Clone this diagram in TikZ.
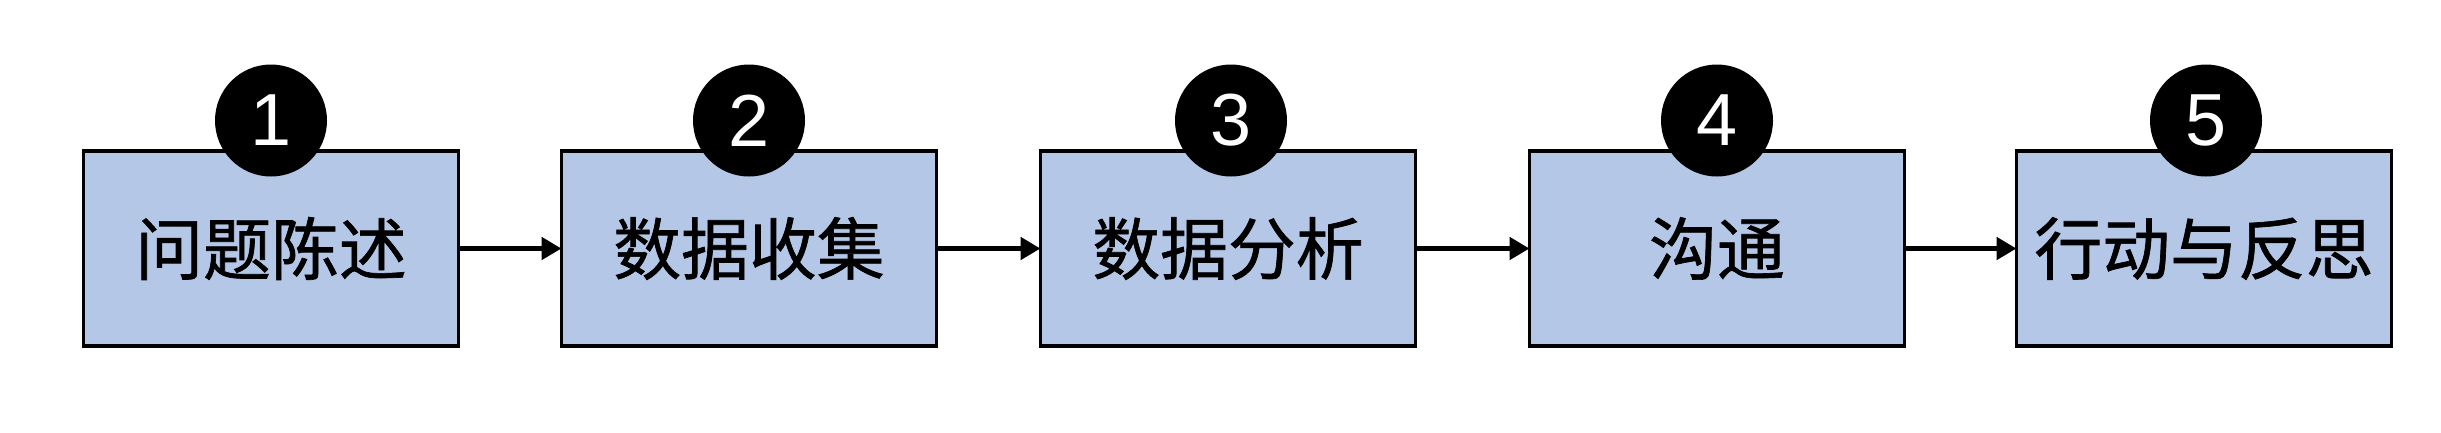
\documentclass[tikz,border=0pt]{standalone}
\usepackage{fontspec}
\newfontfamily\cjk{Noto Sans CJK SC}[FakeBold=1]
\newfontfamily\numfont{Liberation Sans}
\usepackage{tikz}
\usetikzlibrary{arrows.meta, positioning}
\usepackage{xcolor}
\definecolor{azulcaja}{HTML}{B4C7E7}

\begin{document}
\begin{tikzpicture}[
		% --- Estilos ---
		caja/.style={
			draw, 
			rectangle, 
			fill=azulcaja,
			line width=0.9pt,
			minimum width=3.75cm, 
			minimum height=1.95cm, 
			inner sep=0pt,
			outer sep=0pt,
			text centered, 
			font=\cjk\fontsize{19.3pt}{23pt}\selectfont
		},
		insignia/.style={
			circle,
			fill=black,
			text=white,
			minimum size=1.12cm,
			inner sep=0pt,
			font=\numfont\fontsize{21pt}{24pt}\selectfont
		},
		flecha_principal/.style={
			-{Triangle[length=2mm, width=2.2mm]}, 
			line width=1.6pt
		}
		]
		% 0. Margenes de la figura
		\useasboundingbox (0,0) rectangle (24.41,4.32);
		
		% 1. Nodos: cinco pasos en fila
		\node[caja] (planteo) at (2.71,1.835) {问题陈述};
		\node[caja, right=1.03cm of planteo] (recogida) {数据收集};
		\node[caja, right=1.04cm of recogida] (analisis) {数据分析};
		\node[caja, right=1.14cm of analisis] (comunica) {沟通};
		\node[caja, right=1.12cm of comunica] (accion) {行动与反思};
		
		% 2. Circulos numerados sobre cada caja
		\node[insignia] (num1) at ([yshift=3.05mm]planteo.north) {1};
		\node[insignia] (num2) at ([yshift=3.05mm]recogida.north) {2};
		\node[insignia] (num3) at ([xshift=0.3mm, yshift=3.05mm]analisis.north) {3};
		\node[insignia] (num4) at ([yshift=3.05mm]comunica.north) {4};
		\node[insignia] (num5) at ([xshift=0.2mm, yshift=3.05mm]accion.north) {5};
		
		% 3. Flechas entre pasos
		\draw[flecha_principal] (planteo.east) -- (recogida.west);
		\draw[flecha_principal] (recogida.east) -- (analisis.west);
		\draw[flecha_principal] (analisis.east) -- (comunica.west);
		\draw[flecha_principal] (comunica.east) -- (accion.west);
		
	\end{tikzpicture}
\end{document}
